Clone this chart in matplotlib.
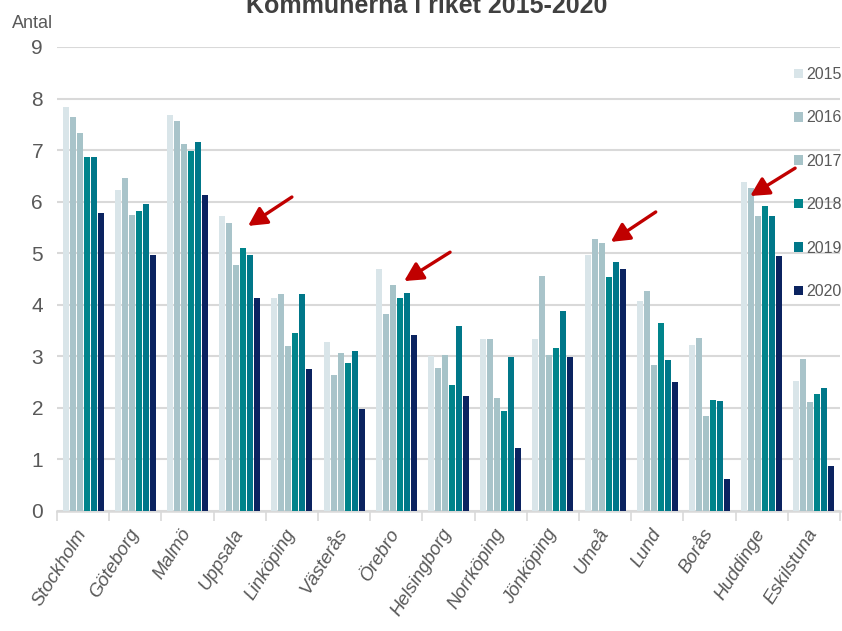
import numpy as np
import matplotlib
matplotlib.use("Agg")
import matplotlib.pyplot as plt
from matplotlib.patches import Patch

plt.rcParams["font.family"] = ["Liberation Sans", "DejaVu Sans"]

# =====================================
# Data
# =====================================

kommuner = [
    "Stockholm", "Göteborg", "Malmö", "Uppsala", "Linköping",
    "Västerås", "Örebro", "Helsingborg", "Norrköping", "Jönköping",
    "Umeå", "Lund", "Borås", "Huddinge", "Eskilstuna",
]

years = ["2015", "2016", "2017", "2018", "2019", "2020"]

v2015 = [7.84, 6.22, 7.68, 5.72, 4.14, 3.28, 4.69, 3.01, 3.34, 3.34, 4.97, 4.07, 3.22, 6.38, 2.53]
v2016 = [7.64, 6.46, 7.57, 5.59, 4.20, 2.64, 3.82, 2.77, 3.33, 4.55, 5.27, 4.27, 3.36, 6.27, 2.94]
v2017 = [7.34, 5.75, 7.12, 4.78, 3.20, 3.07, 4.38, 3.02, 2.19, 3.03, 5.19, 2.83, 1.84, 5.72, 2.11]
v2018 = [6.87, 5.81, 6.99, 5.11, 3.46, 2.87, 4.14, 2.45, 1.94, 3.16, 4.53, 3.64, 2.16, 5.91, 2.27]
v2019 = [6.87, 5.95, 7.16, 4.97, 4.20, 3.11, 4.23, 3.58, 2.98, 3.87, 4.83, 2.92, 2.14, 5.72, 2.38]
v2020 = [5.78, 4.97, 6.12, 4.14, 2.75, 1.97, 3.41, 2.23, 1.22, 2.99, 4.69, 2.51, 0.63, 4.95, 0.88]

series = [v2015, v2016, v2017, v2018, v2019, v2020]

colors = ["#D9E5E9", "#A9C4CA", "#A6C3C8", "#00848B", "#007789", "#0B2360"]

# arrows: (kommun, tip x offset, tip y, tail x offset, tail y)
arrows = [
    ("Uppsala", 0.16, 5.53, 1.00, 6.09),
    ("Örebro", 0.15, 4.46, 1.03, 5.02),
    ("Umeå", 0.11, 5.22, 0.97, 5.80),
    ("Huddinge", -0.22, 6.11, 0.64, 6.65),
]

# =====================================
# Chart
# =====================================

text_color = "#595959"
grid_color = "#D9D9D9"

fig = plt.figure(figsize=(8.42, 6.31), dpi=100)
ax = fig.add_axes([57 / 842, 1 - 511 / 631, 783 / 842, 464 / 631])

x = np.arange(len(kommuner))
pitch = 0.134
width = 0.118

for i, (vals, col) in enumerate(zip(series, colors)):
    ax.bar(
        x + (i - 2.5) * pitch,
        vals,
        width=width,
        color=col,
        label=years[i],
        zorder=3
    )

ax.set_xlim(-0.5, len(kommuner) - 0.5)
ax.set_ylim(0, 9)

ax.set_yticks(range(0, 10))
ax.yaxis.grid(True, color=grid_color, linewidth=1.5, zorder=0)
ax.tick_params(axis="y", length=0, pad=10, labelsize=15, labelcolor=text_color)

ax.set_xticks(x)
ax.set_xticklabels(kommuner, rotation=58, ha="right", va="center",
                   rotation_mode="anchor", fontsize=13.5, style="italic",
                   color=text_color)
ax.tick_params(axis="x", length=0, pad=14)
ax.set_xticks(np.arange(-0.5, len(kommuner)), minor=True)
ax.tick_params(axis="x", which="minor", length=7, width=1.2, color=grid_color)

for side in ["top", "right", "left"]:
    ax.spines[side].set_visible(False)
ax.spines["bottom"].set_color(grid_color)
ax.spines["bottom"].set_linewidth(1.8)

for name, tx, ty, sx, sy in arrows:
    k = kommuner.index(name)
    ax.annotate(
        "",
        xy=(k + tx, ty),
        xytext=(k + sx, sy),
        arrowprops=dict(
            arrowstyle="-|>,head_length=0.8,head_width=0.42",
            color="#C00000",
            lw=2.4,
            mutation_scale=14,
            shrinkA=0,
            shrinkB=0
        ),
        zorder=5
    )

handles = [Patch(facecolor=c, label=y) for c, y in zip(colors, years)]
leg = ax.legend(
    handles=handles,
    loc="upper left",
    bbox_to_anchor=(794 / 842, 1 - 67 / 631),
    bbox_transform=fig.transFigure,
    frameon=False,
    fontsize=11.5,
    handlelength=0.55,
    handleheight=0.55,
    handletextpad=0.2,
    labelspacing=1.78,
    borderpad=0,
    borderaxespad=0
)
for t in leg.get_texts():
    t.set_color(text_color)

fig.text(12 / 842, 1 - 28 / 631, "Antal", fontsize=13, color=text_color,
         ha="left", va="baseline")

# title is clipped at the top edge, as in the original
fig.text(427 / 842, 1 - 13 / 631, "Kommunerna i riket 2015-2020",
         fontsize=18, fontweight="bold", color="#404040",
         ha="center", va="baseline")

plt.savefig("out.png", dpi=100)
